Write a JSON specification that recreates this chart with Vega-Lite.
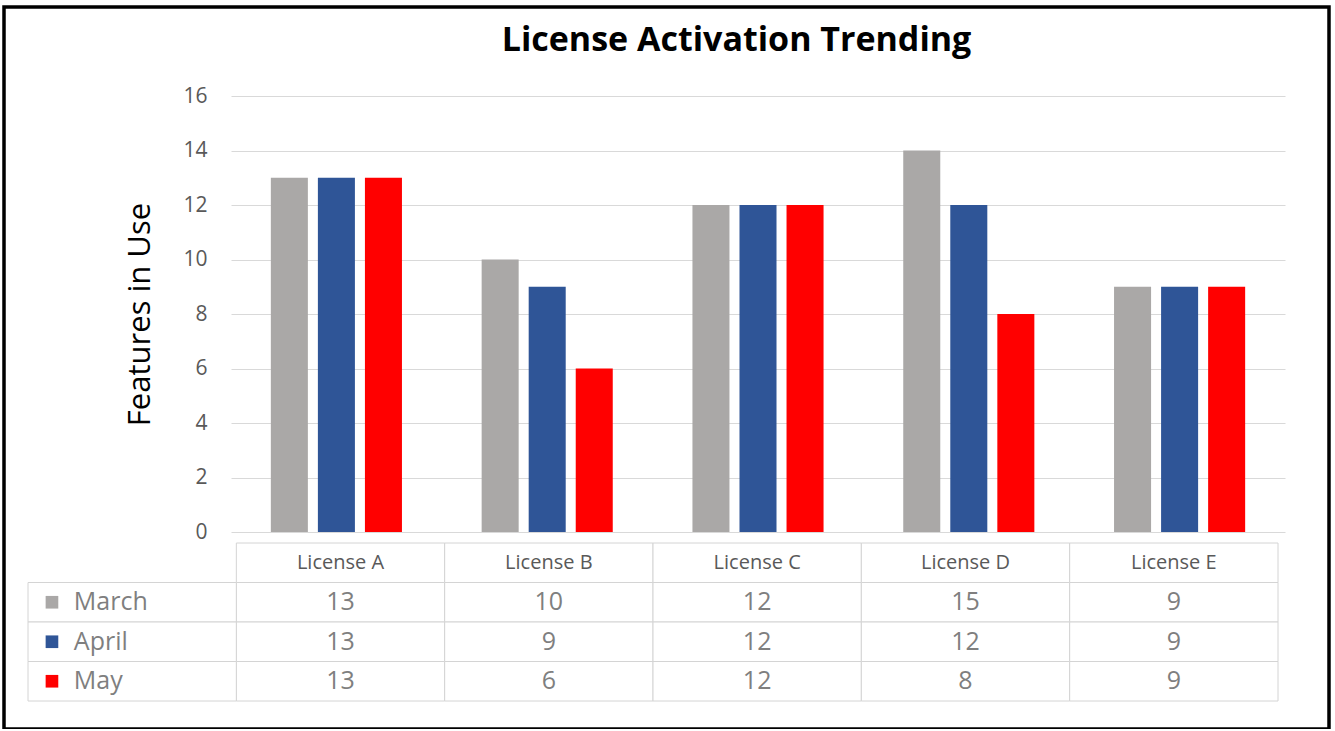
{
  "$schema": "https://vega.github.io/schema/vega-lite/v6.json",
  "width": 1325,
  "height": 722,
  "padding": {"left": 4, "top": 7, "right": 2, "bottom": 0},
  "autosize": {"type": "pad"},
  "background": "white",
  "config": {
    "view": {"stroke": "black", "strokeWidth": 3.5},
    "font": "Open Sans",
    "text": {"font": "Open Sans"}
  },
  "title": {
    "text": "License Activation Trending",
    "font": "Open Sans",
    "fontSize": 34,
    "fontWeight": "bold",
    "color": "black",
    "anchor": "middle",
    "baseline": "alphabetic",
    "offset": -47,
    "dx": 70,
    "dy": 31
  },
  "data": {
    "values": [
      {"license": "License A", "month": "March", "value": 13, "table": 13},
      {"license": "License A", "month": "April", "value": 13, "table": 13},
      {"license": "License A", "month": "May", "value": 13, "table": 13},
      {"license": "License B", "month": "March", "value": 10, "table": 10},
      {"license": "License B", "month": "April", "value": 9, "table": 9},
      {"license": "License B", "month": "May", "value": 6, "table": 6},
      {"license": "License C", "month": "March", "value": 12, "table": 12},
      {"license": "License C", "month": "April", "value": 12, "table": 12},
      {"license": "License C", "month": "May", "value": 12, "table": 12},
      {"license": "License D", "month": "March", "value": 14, "table": 15},
      {"license": "License D", "month": "April", "value": 12, "table": 12},
      {"license": "License D", "month": "May", "value": 8, "table": 8},
      {"license": "License E", "month": "March", "value": 9, "table": 9},
      {"license": "License E", "month": "April", "value": 9, "table": 9},
      {"license": "License E", "month": "May", "value": 9, "table": 9}
    ]
  },
  "layer": [
    {
      "mark": {"type": "bar"},
      "encoding": {
        "x": {
          "field": "license", "type": "nominal",
          "scale": {"domain": ["License A", "License B", "License C", "License D", "License E"], "range": [227, 1281], "paddingInner": 0, "paddingOuter": 0},
          "axis": null
        },
        "xOffset": {
          "field": "month", "type": "nominal",
          "scale": {"domain": ["March", "April", "May"], "paddingInner": 0.213, "paddingOuter": 0.847}
        },
        "y": {
          "field": "value", "type": "quantitative",
          "scale": {"domain": [0, 16], "range": [525, 89], "nice": false},
          "axis": {
            "values": [0, 2, 4, 6, 8, 10, 12, 14, 16],
            "offset": -224,
            "domain": false,
            "ticks": false,
            "grid": true,
            "gridColor": "#d9d9d9",
            "gridWidth": 1,
            "labelFont": "Open Sans",
            "labelFontSize": 21,
            "labelColor": "#595959",
            "labelPadding": 21,
            "title": "Features in Use",
            "titleFont": "Open Sans",
            "titleFontSize": 31,
            "titleFontWeight": "normal",
            "titleColor": "black",
            "titlePadding": 26
          }
        },
        "color": {
          "field": "month", "type": "nominal",
          "scale": {"domain": ["March", "April", "May"], "range": ["#aaa8a7", "#2f5597", "#ff0000"]},
          "legend": null
        }
      }
    },
    {
      "encoding": {
        "x": {"type": "nominal", "scale": {"domain": ["_", "License A", "License B", "License C", "License D", "License E"], "range": [24, 1274], "paddingInner": 0, "paddingOuter": 0}, "axis": null},
        "y": {"type": "nominal", "scale": {"domain": ["hdr", "March", "April", "May"], "range": [536, 694], "paddingInner": 0, "paddingOuter": 0}, "axis": null}
      },
      "layer": [
        {
          "mark": {"type": "rect", "fill": "white", "stroke": "#d4d4d4", "strokeWidth": 1},
          "encoding": {
            "x": {"field": "license", "type": "nominal"},
            "y": {"field": "month", "type": "nominal"}
          }
        },
        {
          "transform": [{"filter": {"field": "month", "equal": "March"}}],
          "mark": {"type": "rect", "fill": "white", "stroke": "#d4d4d4", "strokeWidth": 1},
          "encoding": {
            "x": {"field": "license", "type": "nominal"},
            "y": {"datum": "hdr", "type": "nominal"}
          }
        },
        {
          "transform": [{"filter": {"field": "license", "equal": "License A"}}],
          "mark": {"type": "rect", "fill": "white", "stroke": "#d4d4d4", "strokeWidth": 1},
          "encoding": {
            "x": {"datum": "_", "type": "nominal"},
            "y": {"field": "month", "type": "nominal"}
          }
        },
        {
          "transform": [{"filter": {"field": "month", "equal": "March"}}],
          "mark": {"type": "text", "font": "Open Sans", "fontSize": 20, "color": "#595959", "align": "center", "baseline": "middle"},
          "encoding": {
            "x": {"field": "license", "type": "nominal"},
            "y": {"datum": "hdr", "type": "nominal"},
            "text": {"field": "license"}
          }
        },
        {
          "mark": {"type": "text", "font": "Open Sans", "fontSize": 25, "color": "#7f7f7f", "align": "center", "baseline": "middle"},
          "encoding": {
            "x": {"field": "license", "type": "nominal"},
            "y": {"field": "month", "type": "nominal"},
            "text": {"field": "table"}
          }
        },
        {
          "transform": [{"filter": {"field": "license", "equal": "License A"}}],
          "mark": {"type": "point", "shape": "square", "filled": true, "size": 160, "opacity": 1},
          "encoding": {
            "x": {"datum": "_", "type": "nominal", "bandPosition": 0.115},
            "y": {"field": "month", "type": "nominal"},
            "color": {"field": "month", "type": "nominal", "legend": null}
          }
        },
        {
          "transform": [{"filter": {"field": "license", "equal": "License A"}}],
          "mark": {"type": "text", "font": "Open Sans", "fontSize": 25, "color": "#7f7f7f", "align": "left", "baseline": "middle"},
          "encoding": {
            "x": {"datum": "_", "type": "nominal", "bandPosition": 0.22},
            "y": {"field": "month", "type": "nominal"},
            "text": {"field": "month"}
          }
        }
      ]
    }
  ],
  "resolve": {"scale": {"x": "independent", "y": "independent"}}
}
